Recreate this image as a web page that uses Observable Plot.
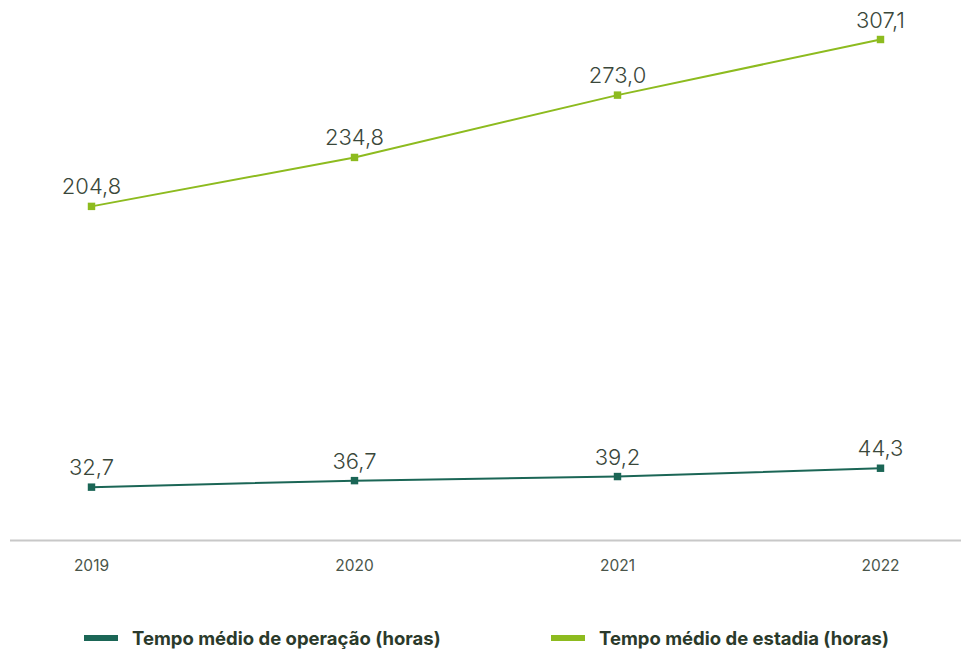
<!DOCTYPE html>
<html>
<head>
<meta charset="utf-8">
<script src="https://cdn.jsdelivr.net/npm/d3@7"></script>
<script src="https://cdn.jsdelivr.net/npm/@observablehq/plot@0.6"></script>
<style>
  html, body { margin: 0; padding: 0; background: #fff; }
  #wrap { position: relative; width: 961px; height: 656px; font-family: Inter, "Noto Sans", sans-serif; }
  .leg { position: absolute; top: 627px; display: flex; align-items: center; font-size: 18.5px; font-weight: 700; color: #2b3a2b; line-height: 22px; }
  .sw { width: 34px; height: 6px; margin-right: 14px; }
</style>
</head>
<body>
<div id="wrap"></div>
<script>
const years = ["2019", "2020", "2021", "2022"];
const operacao = [32.7, 36.7, 39.2, 44.3];
const estadia = [204.8, 234.8, 273.0, 307.1];
const seriesNames = ["Tempo médio de operação (horas)", "Tempo médio de estadia (horas)"];
const seriesColors = ["#1b6656", "#8dbb1f"];

const data = [];
years.forEach((y, i) => {
  data.push({year: y, value: operacao[i], series: seriesNames[0]});
  data.push({year: y, value: estadia[i], series: seriesNames[1]});
});
const fmt = v => v.toFixed(1).replace(".", ",");

const chart = Plot.plot({
  width: 961,
  height: 600,
  marginLeft: 10,
  marginRight: 0,
  marginTop: 0,
  marginBottom: 60,
  style: {fontFamily: "Inter, 'Noto Sans', sans-serif", background: "#fff"},
  x: {type: "point", domain: years, range: [91, 880], padding: 0, label: null},
  y: {domain: [0, 331], axis: null},
  color: {domain: seriesNames, range: seriesColors},
  marks: [
    Plot.ruleY([0], {stroke: "#c8c8c8", strokeWidth: 2}),
    Plot.axisX({tickSize: 0, tickPadding: 19, fontSize: 15.5, color: "#4a554a", label: null}),
    Plot.line(data, {x: "year", y: "value", z: "series", stroke: "series", strokeWidth: 2}),
    Plot.dot(data, {x: "year", y: "value", fill: "series", symbol: "square", r: 4.2}),
    Plot.text(data, {x: "year", y: "value", text: d => fmt(d.value), dy: -19, fontSize: 22, fontWeight: 300, fill: "#3a473a"})
  ]
});
const wrap = document.getElementById("wrap");
wrap.appendChild(chart);

const legLefts = [84, 551];
seriesNames.forEach((name, i) => {
  const item = document.createElement("div");
  item.className = "leg";
  item.style.left = legLefts[i] + "px";
  const sw = document.createElement("span");
  sw.className = "sw";
  sw.style.background = seriesColors[i];
  const t = document.createElement("span");
  t.textContent = name;
  item.appendChild(sw);
  item.appendChild(t);
  wrap.appendChild(item);
});
</script>
</body>
</html>
